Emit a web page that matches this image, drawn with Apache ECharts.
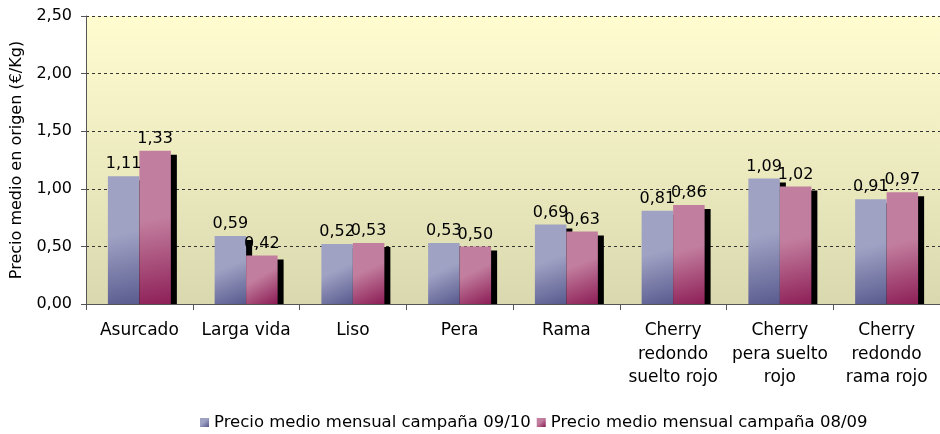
<!DOCTYPE html>
<html>
<head>
<meta charset="utf-8">
<style>
html,body{margin:0;padding:0;background:#ffffff;}
#chart{width:940px;height:434px;}
</style>
</head>
<body>
<div id="chart"></div>
<script src="https://cdn.jsdelivr.net/npm/echarts@6/dist/echarts.min.js"></script>
<script>
// categorías y precios (€/Kg)
var categorias = ['Asurcado', 'Larga vida', 'Liso', 'Pera', 'Rama',
    'Cherry\nredondo\nsuelto rojo', 'Cherry\npera suelto\nrojo', 'Cherry\nredondo\nrama rojo'];
var campana0910 = [1.11, 0.59, 0.52, 0.53, 0.69, 0.81, 1.09, 0.91];
var campana0809 = [1.33, 0.42, 0.53, 0.50, 0.63, 0.86, 1.02, 0.97];
var nombres = ['Precio medio mensual campaña 09/10', 'Precio medio mensual campaña 08/09'];

function coma(v) { return v.toFixed(2).replace('.', ','); }

var fuente = 'DejaVu Sans, Verdana, sans-serif';

function degradado(c1, c2) {
    return new echarts.graphic.LinearGradient(0, 0, 0.9, 1, [
        {offset: 0, color: c1},
        {offset: 0.45, color: c1},
        {offset: 1, color: c2}
    ]);
}

var myChart = echarts.init(document.getElementById('chart'));
var option = {
    animation: false,
    textStyle: {fontFamily: fuente, color: '#000'},
    grid: {
        left: 86, right: 0, top: 16, bottom: 130,
        show: true,
        borderWidth: 0,
        backgroundColor: new echarts.graphic.LinearGradient(0, 0, 0, 1, [
            {offset: 0, color: '#fffdd0'},
            {offset: 1, color: '#dad8ae'}
        ])
    },
    // tapa la sombra que sobresale bajo el eje
    graphic: [{
        type: 'rect', z: 4, silent: true,
        shape: {x: 87, y: 304.5, width: 853, height: 6},
        style: {fill: '#ffffff'}
    }],
    legend: {
        left: 195, bottom: -2,
        itemWidth: 9, itemHeight: 9, itemGap: 6,
        icon: 'rect',
        textStyle: {fontSize: 16.5, color: '#000', fontFamily: fuente},
        data: nombres
    },
    xAxis: {
        type: 'category',
        z: 6,
        data: categorias,
        axisLine: {lineStyle: {color: '#555', width: 1}},
        axisTick: {show: true, length: 6, lineStyle: {color: '#555'}},
        axisLabel: {fontSize: 17, color: '#000', lineHeight: 23.5, margin: 15, interval: 0}
    },
    yAxis: {
        type: 'value',
        min: 0, max: 2.5, interval: 0.5,
        name: 'Precio medio en origen (€/Kg)',
        nameLocation: 'middle',
        nameGap: 61,
        nameTextStyle: {fontSize: 16, color: '#000'},
        axisLine: {show: true, lineStyle: {color: '#555'}},
        axisTick: {show: true, length: 5, lineStyle: {color: '#555'}},
        axisLabel: {fontSize: 16, color: '#000', margin: 14, formatter: function (v) { return coma(v); }},
        splitLine: {lineStyle: {color: '#333', type: [3, 3], width: 1}}
    },
    series: [
        {
            name: nombres[0],
            type: 'bar',
            data: campana0910,
            barGap: '0%',
            barCategoryGap: '41%',
            itemStyle: {
                color: degradado('#a0a2c4', '#5a5c90'),
                shadowColor: '#000', shadowOffsetX: 6, shadowOffsetY: 4, shadowBlur: 0
            },
            label: {show: true, position: 'top', fontSize: 16, color: '#000', distance: 4,
                formatter: function (p) { return coma(p.value); }}
        },
        {
            name: nombres[1],
            type: 'bar',
            data: campana0809,
            itemStyle: {
                color: degradado('#c27e9e', '#8e2058'),
                shadowColor: '#000', shadowOffsetX: 6, shadowOffsetY: 4, shadowBlur: 0
            },
            label: {show: true, position: 'top', fontSize: 16, color: '#000', distance: 4,
                formatter: function (p) { return coma(p.value); }}
        }
    ]
};
myChart.setOption(option);
</script>
</body>
</html>
